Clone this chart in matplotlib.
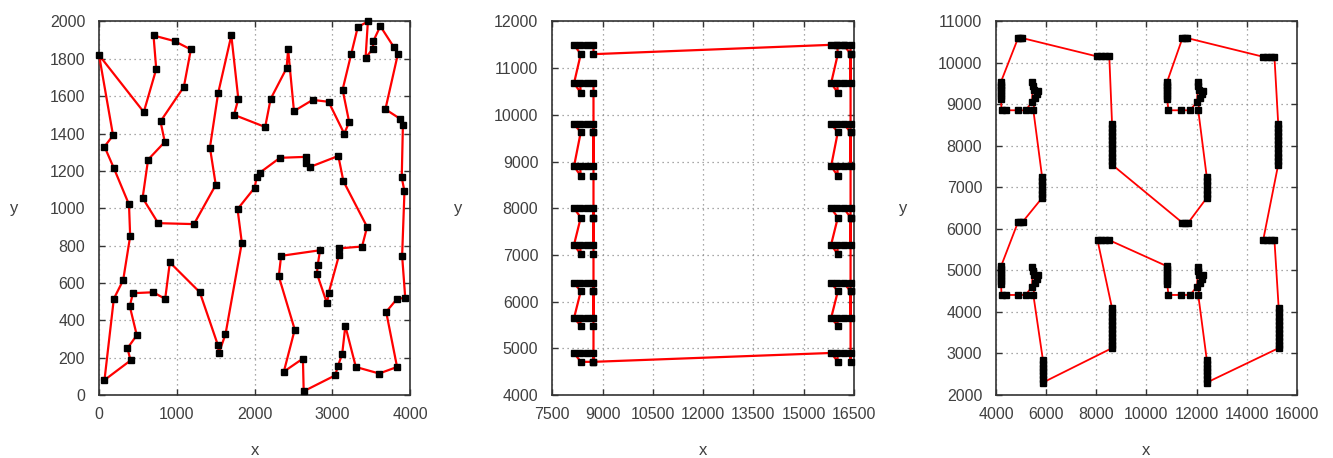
# Three TSP tours side by side (red tour, black cities)
import matplotlib
matplotlib.use("Agg")
import matplotlib.pyplot as plt

plt.rcParams["font.family"] = ["Liberation Sans", "DejaVu Sans"]

# ------------------------------------------------------------
# Panel 1 : irregular instance, tour order as read
# ------------------------------------------------------------
tour1_x = [0, 575, 735, 700, 970, 1180, 1090, 790, 845, 630,
           560, 760, 1220, 1500, 1425, 1530, 1700, 1790, 1735, 2135,
           2205, 2410, 2430, 2505, 2745, 2950, 3150, 3215, 3130, 3240,
           3325, 3455, 3425, 3520, 3525, 3615, 3785, 3840, 3680, 3865,
           3905, 3890, 3925, 3895, 3935, 3830, 3690, 3830, 3600, 3300,
           3165, 3125, 3070, 3035, 2630, 2620, 2375, 2515, 2310, 2340,
           2840, 2810, 2800, 2930, 2950, 3085, 3085, 3380, 3445, 3140,
           3075, 2705, 2655, 2655, 2325, 2065, 2025, 2000, 1780, 1835,
           1625, 1540, 1525, 1295, 910, 850, 695, 435, 395, 485,
           365, 405, 70, 190, 310, 400, 385, 190, 70, 180]
tour1_y = [1820, 1515, 1745, 1925, 1895, 1850, 1650, 1465, 1355, 1260,
           1055, 920, 915, 1125, 1325, 1615, 1925, 1585, 1500, 1435,
           1585, 1750, 1850, 1520, 1580, 1570, 1400, 1460, 1635, 1825,
           1970, 2000, 1805, 1855, 1895, 1975, 1865, 1825, 1530, 1480,
           1445, 1165, 1090, 745, 520, 515, 445, 150, 115, 150,
           370, 220, 155, 105, 20, 195, 125, 350, 635, 745,
           775, 695, 650, 490, 545, 750, 785, 795, 900, 1145,
           1280, 1220, 1240, 1275, 1270, 1190, 1165, 1110, 995, 815,
           325, 225, 270, 550, 710, 515, 550, 545, 475, 320,
           250, 185, 80, 515, 615, 850, 1020, 1215, 1330, 1390]

# ------------------------------------------------------------
# Panel 2 : two columns of 9 small clusters
# ------------------------------------------------------------
rows_top = [11500, 10680, 9800, 8900, 8000, 7220, 6400, 5650, 4900]
rows_low = [11300, 10470, 9630, 8690, 7800, 7010, 6220, 5480, 4710]
left_cols = {"A1": 8150, "A2": 8330, "A3": 8530, "A4": 8730, "B2": 8350, "B4": 8730}
right_cols = {"A1": 15820, "A2": 16000, "A3": 16200, "A4": 16400, "B2": 16020, "B4": 16400}

left_route = ("B4.1 A4.1 A3.1 A2.1 A1.1 B2.1 A1.2 B2.2 A2.2 A3.2 A4.2 B4.2 "
              "B4.3 A4.3 A3.3 A2.3 A1.3 B2.3 A1.4 B2.4 A2.4 A3.4 A4.4 B4.3 B4.4 "
              "B4.5 A4.5 A3.5 A2.5 A1.5 B2.5 A1.6 B2.6 A2.6 A3.6 A4.6 B4.5 B4.6 "
              "B4.7 A4.7 A3.7 A2.7 A1.7 B2.7 A1.8 B2.8 A2.8 A3.8 A4.8 B4.7 B4.8 "
              "B4.9 A4.9 A3.9 A2.9 A1.9 B2.9 B4.9")
right_route = ("A1.9 B2.9 A2.9 A3.9 A4.9 B4.9 B4.7 A4.8 A3.8 A2.8 B2.8 A1.8 "
               "B2.7 A1.7 A2.7 A3.7 B4.7 A4.7 B4.5 A4.6 A3.6 A2.6 B2.6 A1.6 "
               "B2.5 A1.5 A2.5 A3.5 B4.5 A4.5 B4.3 A4.4 A3.4 A2.4 B2.4 A1.4 "
               "B2.3 A1.3 A2.3 A3.3 B4.3 A4.3 B4.1 A4.2 A3.2 A2.2 B2.2 A1.2 "
               "B2.1 A2.1 A3.1 B4.1 A4.1 A3.1 A2.1 A1.1")

# ------------------------------------------------------------
# Panel 3 : U shapes, bars and small groups, listed in tour order
# ------------------------------------------------------------
tlu_bar = [(4200, 9130), (4200, 9200), (4200, 9270), (4200, 9340), (4200, 9410), (4200, 9480), (4200, 9550)]
grp_tl = [(4880, 10600), (4970, 10600), (5050, 10600)]
grp_tm = [(8020, 10160), (8180, 10160), (8340, 10160), (8520, 10160)]
bar_a = [(8630, 8540), (8630, 8440), (8630, 8340), (8630, 8240), (8630, 8140), (8630, 8040),
         (8630, 7940), (8630, 7840), (8630, 7740), (8630, 7640), (8630, 7550)]
grp_mid = [(11440, 6150), (11560, 6150), (11670, 6150)]
bar_b = [(12410, 6750), (12410, 6850), (12410, 6950), (12410, 7050), (12410, 7150), (12410, 7250)]
mu = [(12070, 8860), (12140, 9150), (12230, 9250), (12250, 9330), (12100, 9350), (12060, 9540),
      (12060, 9440), (12020, 9060), (11740, 8860), (11400, 8860), (10880, 8860)]
mu_bar = [(10830, 9130), (10830, 9200), (10830, 9270), (10830, 9340), (10830, 9410), (10830, 9480), (10830, 9550)]
grp_tc = [(11440, 10600), (11540, 10600), (11630, 10600)]
grp_tr = [(14660, 10150), (14810, 10150), (14960, 10150), (15110, 10150)]
bar_c = [(15260, 8540), (15260, 8440), (15260, 8340), (15260, 8240), (15260, 8140), (15260, 8040),
         (15260, 7940), (15260, 7840), (15260, 7740), (15260, 7640), (15260, 7550)]
grp_rm = [(14660, 5730), (14810, 5730), (14960, 5730), (15110, 5730)]
bar_d = [(15280, 4090), (15280, 3990), (15280, 3890), (15280, 3790), (15280, 3690), (15280, 3590),
         (15280, 3490), (15280, 3390), (15280, 3290), (15280, 3200), (15280, 3130)]
bar_e = [(12410, 2300), (12410, 2390), (12410, 2480), (12410, 2570), (12410, 2660), (12410, 2750), (12410, 2850)]
lmu = [(12070, 4410), (12140, 4700), (12230, 4800), (12250, 4880), (12100, 4900), (12060, 5090),
       (12060, 4990), (12020, 4610), (11740, 4410), (11400, 4410), (10880, 4410)]
lmu_bar = [(10830, 4680), (10830, 4750), (10830, 4820), (10830, 4890), (10830, 4960), (10830, 5030), (10830, 5100)]
grp_lm = [(8520, 5730), (8350, 5730), (8200, 5730), (8050, 5730)]
bar_f = [(8630, 4090), (8630, 3990), (8630, 3890), (8630, 3790), (8630, 3690), (8630, 3590),
         (8630, 3490), (8630, 3390), (8630, 3290), (8630, 3200), (8630, 3130)]
bar_g = [(5870, 2300), (5870, 2390), (5870, 2480), (5870, 2570), (5870, 2660), (5870, 2750), (5870, 2850)]
llu = [(5490, 4410), (5560, 4700), (5650, 4800), (5660, 4880), (5500, 4900), (5450, 5090),
       (5460, 4990), (5440, 4610), (5180, 4410), (4880, 4410), (4400, 4410), (4220, 4410)]
llu_bar = [(4200, 4680), (4200, 4750), (4200, 4820), (4200, 4890), (4200, 4960), (4200, 5030), (4200, 5100)]
grp_ll = [(4880, 6170), (4970, 6170), (5060, 6170)]
bar_h = [(5840, 6750), (5840, 6850), (5840, 6950), (5840, 7050), (5840, 7150), (5840, 7250)]
tlu = [(5490, 8860), (5560, 9150), (5650, 9250), (5660, 9330), (5500, 9350), (5450, 9540),
       (5460, 9440), (5440, 9060), (5180, 8860), (4880, 8860), (4400, 8860), (4220, 8860)]

tour3_parts = [tlu_bar, grp_tl, grp_tm, bar_a, grp_mid, bar_b, mu, mu_bar, grp_tc, grp_tr,
               bar_c, grp_rm, bar_d, bar_e, lmu, lmu_bar, grp_lm, bar_f, bar_g, llu,
               llu_bar, grp_ll, bar_h, tlu]


def route_xy(route, cols):
    xs, ys = [], []
    for tok in route.split():
        key, k = tok.split(".")
        k = int(k) - 1
        xs.append(cols[key])
        ys.append(rows_top[k] if key[0] == "A" else rows_low[k])
    return xs, ys


def style(ax, xlim, ylim, xticks, yticks, ylab_x):
    ax.set_xlim(*xlim)
    ax.set_ylim(*ylim)
    ax.set_xticks(xticks)
    ax.set_yticks(yticks)
    ax.grid(True, linestyle=(0, (1, 3)), color="#8c8c8c", linewidth=0.9)
    ax.set_axisbelow(True)
    ax.tick_params(direction="in", top=True, right=True, length=4, width=1,
                   color="#333333", labelsize=11.5, labelcolor="#404040")
    ax.tick_params(axis="y", pad=10)
    ax.tick_params(axis="x", pad=9)
    for s in ax.spines.values():
        s.set_color("#333333")
        s.set_linewidth(1.2)
    ax.set_xlabel("x", fontsize=12, color="#404040", va="center")
    ax.xaxis.set_label_coords(0.5, -0.148)
    ax.set_ylabel("y", fontsize=12, color="#404040", rotation=0, va="center")
    ax.yaxis.set_label_coords(ylab_x, 0.5)


def draw_tour(ax, xs, ys, lw, ms):
    ax.plot(xs + xs[:1], ys + ys[:1], color="#ff0000", linewidth=lw, zorder=3, clip_on=False)
    ax.plot(xs, ys, linestyle="none", marker="s", markersize=ms, color="black",
            zorder=4, clip_on=False)


fig = plt.figure(figsize=(13.33, 4.58), dpi=100)
ax1 = fig.add_axes([0.0743, 0.1376, 0.2335, 0.8155])
ax2 = fig.add_axes([0.4143, 0.1376, 0.2263, 0.8155])
ax3 = fig.add_axes([0.7472, 0.1376, 0.2256, 0.8155])

# panel 1
draw_tour(ax1, tour1_x, tour1_y, 1.6, 4.2)
style(ax1, (0, 4000), (0, 2000), range(0, 4001, 1000), range(0, 2001, 200), -0.273)

# panel 2
lx, ly = route_xy(left_route, left_cols)
rx, ry = route_xy(right_route, right_cols)
tour2_x = lx + rx
tour2_y = ly + ry
draw_tour(ax2, tour2_x, tour2_y, 1.6, 4.0)
style(ax2, (7500, 16500), (4000, 12000), range(7500, 16501, 1500), range(4000, 12001, 1000), -0.312)

# panel 3
tour3 = [p for part in tour3_parts for p in part]
tour3_x = [p[0] for p in tour3]
tour3_y = [p[1] for p in tour3]
draw_tour(ax3, tour3_x, tour3_y, 1.3, 3.8)
style(ax3, (4000, 16000), (2000, 11000), range(4000, 16001, 2000), range(2000, 11001, 1000), -0.309)

fig.savefig("out.png", dpi=100)
